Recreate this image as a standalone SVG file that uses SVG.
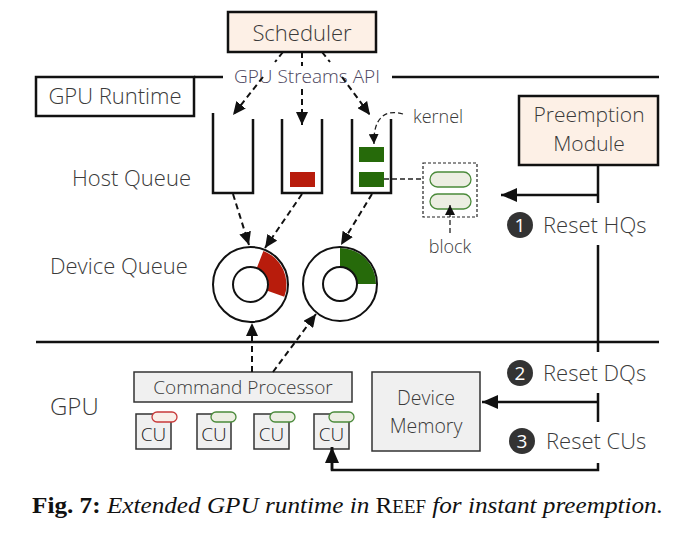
<svg xmlns="http://www.w3.org/2000/svg" width="699" height="536" viewBox="0 0 699 536">
<style>
.t{font-family:"Open Sans","Noto Sans",sans-serif;font-weight:300;fill:#3a3a3a}
.sm{font-size:18px}
.md{font-size:19px}
.lg{font-size:22px}
.box{stroke:#111;stroke-width:2.5}
.peach{fill:#fdf0e6}
.grey{fill:#f0f0f0;stroke:#333;stroke-width:1.5}
.cup{fill:none;stroke:#111;stroke-width:2.5}
.solid{fill:none;stroke:#111;stroke-width:2.5}
.dash{fill:none;stroke:#111;stroke-width:2;stroke-dasharray:6 4}
.dash2{fill:none;stroke:#222;stroke-width:1.3;stroke-dasharray:5 3}
.gpill{fill:#eceee2;stroke:#4a8a3a;stroke-width:1.3}
.rpill{fill:#f9efe9;stroke:#c83a3a;stroke-width:1.3}
.num{fill:#333}
.numt{font-family:"Open Sans","Noto Sans",sans-serif;font-size:19px;fill:#fff;text-anchor:middle}
</style>
<defs>
<marker id="ah" markerUnits="userSpaceOnUse" markerWidth="18" markerHeight="16" refX="16" refY="7" orient="auto"><path d="M0,0 L16,7 L0,14 z" fill="#111"/></marker>
<marker id="ahd" markerUnits="userSpaceOnUse" markerWidth="14" markerHeight="12" refX="13" refY="6" orient="auto"><path d="M0,0 L13,6 L0,12 z" fill="#111"/></marker>
<marker id="ahs" markerUnits="userSpaceOnUse" markerWidth="12" markerHeight="10" refX="10" refY="5" orient="auto"><path d="M0,0 L10,5 L0,10 z" fill="#111"/></marker>
</defs>
<rect width="699" height="536" fill="#fff"/>

<g id="separators">
<path class="solid" d="M194,77 H223 M392,77 H659"/>
<path class="solid" d="M36,342 H659"/>
</g>

<g id="scheduler">
<rect class="box peach" x="228" y="12" width="148" height="40"/>
<text class="t lg" x="302" y="41" text-anchor="middle">Scheduler</text>
</g>

<g id="gpu-runtime">
<rect class="box" x="36" y="77" width="158" height="39" fill="#fff"/>
<text class="t lg" x="115" y="104" text-anchor="middle">GPU Runtime</text>
</g>

<g id="streams-api">
<text class="t md" x="307" y="83" text-anchor="middle" style="fill:#4d4660">GPU Streams API</text>
</g>

<g id="preemption-module">
<rect class="box peach" x="519" y="96" width="139" height="69"/>
<text class="t" x="589" y="122" font-size="21" text-anchor="middle">Preemption</text>
<text class="t" x="589" y="151" font-size="21" text-anchor="middle">Module</text>
</g>

<g id="labels">
<text class="t lg" x="72" y="186">Host Queue</text>
<text class="t lg" x="50" y="274">Device Queue</text>
<text class="t" x="50" y="415" font-size="24">GPU</text>
<text class="t sm" x="413" y="123">kernel</text>
<text class="t sm" x="450" y="253" text-anchor="middle">block</text>
</g>

<g id="host-queues">
<path class="cup" d="M213,113 V193 H253 V119"/>
<path class="cup" d="M282,119 V193 H322 V119"/>
<rect x="290" y="172" width="25" height="15" fill="#b81c0c"/>
<path class="cup" d="M352,119 V193 H391 V119"/>
<rect x="359" y="147" width="25" height="15" fill="#266a0a"/>
<rect x="359" y="172" width="25" height="15" fill="#266a0a"/>
</g>

<g id="block-group">
<rect x="423" y="163" width="54" height="54" fill="none" stroke="#222" stroke-width="1.2" stroke-dasharray="3 2"/>
<rect class="gpill" x="430" y="172" width="41" height="15" rx="7.5"/>
<rect class="gpill" x="430" y="194" width="41" height="15" rx="7.5"/>
</g>

<g id="device-queues">
<path d="M263.4,250.9 A36,36 0 0,1 284.3,296.8 L267.4,290.7 A18,18 0 0,0 256.9,267.7 Z" fill="#b81c0c"/>
<circle cx="250.5" cy="284.5" r="37.5" fill="none" stroke="#111" stroke-width="2"/>
<circle cx="250.5" cy="284.5" r="17.5" fill="none" stroke="#111" stroke-width="2"/>
<path d="M340,248 A36,36 0 0,1 376,284 L357,284 A17,17 0 0,0 340,267 Z" fill="#266a0a"/>
<circle cx="340" cy="284" r="37" fill="none" stroke="#111" stroke-width="2"/>
<circle cx="340" cy="284" r="17" fill="none" stroke="#111" stroke-width="2"/>
</g>

<g id="command-processor">
<rect class="grey" x="134" y="372" width="218" height="30"/>
<text class="t md" x="243" y="394" text-anchor="middle">Command Processor</text>
</g>

<g id="cus">
<rect class="grey" x="136" y="414" width="35" height="35"/>
<text class="t md" x="153.5" y="441" text-anchor="middle" style="fill:#222">CU</text>
<rect class="rpill" x="152" y="412" width="25" height="10" rx="5"/>
<rect class="grey" x="197" y="414" width="34" height="35"/>
<text class="t md" x="214" y="441" text-anchor="middle" style="fill:#222">CU</text>
<rect class="gpill" x="211" y="412" width="25" height="10" rx="5"/>
<rect class="grey" x="254" y="414" width="35" height="35"/>
<text class="t md" x="271.5" y="441" text-anchor="middle" style="fill:#222">CU</text>
<rect class="gpill" x="270" y="412" width="25" height="10" rx="5"/>
<rect class="grey" x="314" y="414" width="35" height="35"/>
<text class="t md" x="331.5" y="441" text-anchor="middle" style="fill:#222">CU</text>
<rect class="gpill" x="329" y="412" width="25" height="10" rx="5"/>
</g>

<g id="device-memory">
<rect class="grey" x="372" y="372" width="108" height="79"/>
<text class="t" x="426" y="405" font-size="19.5" text-anchor="middle">Device</text>
<text class="t" x="426" y="433" font-size="19.5" text-anchor="middle">Memory</text>
</g>

<g id="steps">
<circle class="num" cx="520" cy="225" r="13"/>
<text class="numt" x="520" y="232">1</text>
<text class="t lg" x="543" y="233">Reset HQs</text>
<circle class="num" cx="520" cy="373" r="13"/>
<text class="numt" x="520" y="380">2</text>
<text class="t lg" x="543" y="381">Reset DQs</text>
<circle class="num" cx="522" cy="441" r="13"/>
<text class="numt" x="522" y="448">3</text>
<text class="t lg" x="546" y="449">Reset CUs</text>
</g>

<g id="connectors">
<path class="dash" d="M283,52 L275,62 M263,77 L233,115" marker-end="url(#ahd)"/>
<path class="dash" d="M302,52 V66 M302,89 V125" marker-end="url(#ahd)"/>
<path class="dash" d="M322,52 L330,62 M342,77 L370,115" marker-end="url(#ahd)"/>
<path class="dash" d="M233,194 L249,245" marker-end="url(#ahd)"/>
<path class="dash" d="M302,194 L265,248" marker-end="url(#ahd)"/>
<path class="dash" d="M372,194 L341,245" marker-end="url(#ahd)"/>
<path class="dash" d="M252,372 V323" marker-end="url(#ahd)"/>
<path class="dash" d="M273,372 L316,314" marker-end="url(#ahd)"/>
<path class="dash2" d="M403,114 C386,109 373,117 374,144" marker-end="url(#ahs)"/>
<path class="dash2" d="M450,233 V205" marker-end="url(#ahs)"/>
<path class="dash2" d="M384,179 H423"/>
<path class="solid" d="M598,165 V203 M598,245 V352 M598,393 V422 M598,463 V470 H332 V447"/>
<path class="solid" d="M598,195 H501" marker-end="url(#ah)"/>
<path class="solid" d="M598,402 H482" marker-end="url(#ah)"/>
<path class="solid" d="M332,470 V447" marker-end="url(#ah)"/>
</g>

<g id="caption">
<text x="32" y="513" font-family="Liberation Serif, serif" font-size="24" fill="#111" textLength="631" lengthAdjust="spacingAndGlyphs"><tspan font-weight="bold">Fig. 7:</tspan><tspan font-style="italic"> Extended GPU runtime in </tspan><tspan>R</tspan><tspan font-size="18">EEF</tspan><tspan font-style="italic"> for instant preemption.</tspan></text>
</g>
</svg>
